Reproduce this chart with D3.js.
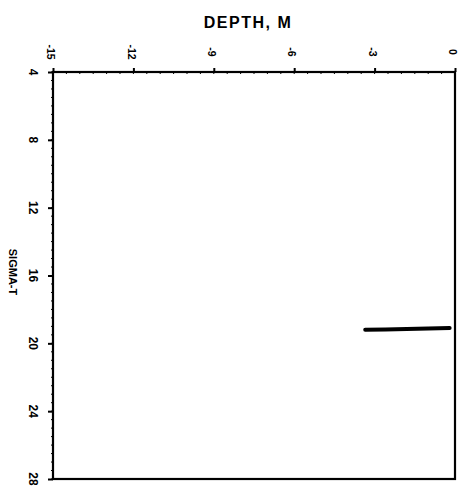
<!DOCTYPE html>
<html>
<head>
<meta charset="utf-8">
<script src="https://cdn.jsdelivr.net/npm/d3@7"></script>
<style>
  body { margin: 0; background: #fff; }
  text { font-family: "Liberation Sans", Arial, sans-serif; font-weight: bold; fill: #000; }
</style>
</head>
<body>
<svg id="chart" width="459" height="490"></svg>
<script>
// data
var depth = [-3.35, -2.6, -1.8, -1.0, -0.2];
var sigma = [19.2, 19.18, 19.15, 19.12, 19.1];
var xTicks = [-15, -12, -9, -6, -3, 0];
var yTicks = [4, 8, 12, 16, 20, 24, 28];

var svg = d3.select("#chart");
var x = d3.scaleLinear().domain([-15, 0]).range([53, 455]);
var y = d3.scaleLinear().domain([4, 28]).range([72, 479]);

// frame
svg.append("rect")
  .attr("x", x(-15)).attr("y", y(4))
  .attr("width", x(0) - x(-15)).attr("height", y(28) - y(4))
  .attr("fill", "none").attr("stroke", "#000").attr("stroke-width", 2.2);

// top axis
var topAxis = svg.append("g").attr("transform", "translate(0," + y(4) + ")")
  .call(d3.axisTop(x).tickValues(xTicks).tickSize(4).tickFormat(""));
topAxis.select(".domain").remove();
topAxis.selectAll("line").attr("stroke-width", 2);
svg.append("g").selectAll("text").data(xTicks).enter().append("text")
  .attr("transform", function(d){ return "translate(" + (x(d) - 1.5) + ",52) rotate(90)"; })
  .attr("text-anchor", "middle").attr("dy", "0.4em")
  .style("font-size", "10.5px")
  .text(function(d){ return d; });

// minor ticks on top
svg.append("g").selectAll("line").data(d3.range(-15, 0.01, 0.5)).enter().append("line")
  .attr("x1", function(d){ return x(d); }).attr("x2", function(d){ return x(d); })
  .attr("y1", y(4)).attr("y2", y(4) + 2)
  .attr("stroke", "#000").attr("stroke-width", 1);

// left axis
var leftAxis = svg.append("g").attr("transform", "translate(" + x(-15) + ",0)")
  .call(d3.axisLeft(y).tickValues(yTicks).tickSize(5).tickFormat(""));
leftAxis.select(".domain").remove();
leftAxis.selectAll("line").attr("stroke-width", 2);
svg.append("g").selectAll("text").data(yTicks).enter().append("text")
  .attr("transform", function(d){ return "translate(33," + y(d) + ") rotate(90)"; })
  .attr("text-anchor", "middle").attr("dy", "0.35em")
  .style("font-size", "12px")
  .text(function(d){ return d; });

// minor ticks on left
svg.append("g").selectAll("line").data(d3.range(4, 28.01, 0.5)).enter().append("line")
  .attr("x1", x(-15) - 2).attr("x2", x(-15) + 1)
  .attr("y1", function(d){ return y(d); }).attr("y2", function(d){ return y(d); })
  .attr("stroke", "#000").attr("stroke-width", 1);

// titles
svg.append("text").attr("x", 248).attr("y", 28)
  .attr("text-anchor", "middle").style("font-size", "16px")
  .style("letter-spacing", "1.5px")
  .text("DEPTH, M");
svg.append("text")
  .attr("transform", "translate(13,272) rotate(90)")
  .attr("text-anchor", "middle").attr("dy", "0.35em")
  .style("font-size", "11px")
  .text("SIGMA-T");

// profile
var line = d3.line().x(function(d, i){ return x(depth[i]); }).y(function(d){ return y(d); });
svg.append("path").datum(sigma)
  .attr("d", line)
  .attr("fill", "none").attr("stroke", "#000")
  .attr("stroke-width", 4).attr("stroke-linecap", "round");
</script>
</body>
</html>
